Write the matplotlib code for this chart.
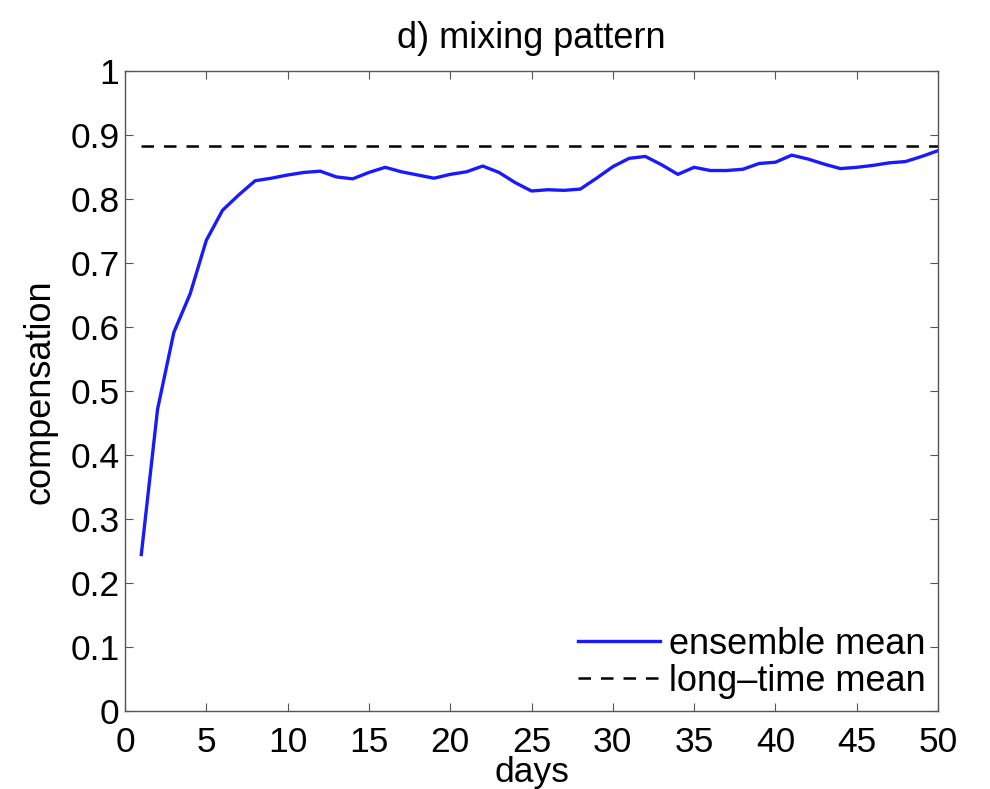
import matplotlib
matplotlib.use("Agg")
import matplotlib.pyplot as plt
import numpy as np

plt.rcParams['font.family'] = ['Liberation Sans', 'DejaVu Sans']

# ensemble mean compensation per day
days = np.arange(1, 51)
ens_mean = [0.245, 0.472, 0.592, 0.652, 0.736, 0.783, 0.807, 0.829, 0.833, 0.838,
            0.842, 0.844, 0.835, 0.832, 0.842, 0.850, 0.843, 0.838, 0.833, 0.839,
            0.843, 0.852, 0.842, 0.826, 0.813, 0.815, 0.814, 0.816, 0.833, 0.851,
            0.864, 0.867, 0.854, 0.839, 0.850, 0.845, 0.845, 0.847, 0.856, 0.858,
            0.869, 0.863, 0.855, 0.848, 0.850, 0.853, 0.857, 0.859, 0.867, 0.876]
long_mean = 0.883

xticks = np.arange(0, 51, 5)
yticks = np.round(np.arange(0, 1.01, 0.1), 1)
yticklabels = ['0'] + ['%.1f' % v for v in yticks[1:-1]] + ['1']

fig = plt.figure(figsize=(9.9, 7.89), dpi=100)
ax = fig.add_axes([0.1263, 0.0985, 0.8212, 0.8111])

ax.plot(days, ens_mean, color='#1a1aff', lw=2.4, label='ensemble mean')
ax.plot([days[0], days[-1]], [long_mean, long_mean], color='black', lw=1.8,
        dashes=(5.0, 4.0), label='long\u2013time mean')

ax.set_xlim(0, 50)
ax.set_ylim(0, 1)
ax.set_xticks(xticks)
ax.set_yticks(yticks)
ax.set_yticklabels(yticklabels)
ax.tick_params(direction='in', length=6, width=0.8, color='#555555',
               labelsize=25.5, top=True, right=True)
ax.tick_params(axis='x', pad=10.5)
ax.tick_params(axis='y', pad=4)
for sp in ax.spines.values():
    sp.set_color('#555555')
    sp.set_linewidth(1.0)

ax.set_xlabel('days', fontsize=25.5, labelpad=-2)
ax.set_ylabel('compensation', fontsize=26, labelpad=9)
ax.set_title('d) mixing pattern', fontsize=26, pad=17)

leg = ax.legend(loc='lower right', frameon=False, fontsize=26, handlelength=2.25,
                handletextpad=0.25, labelspacing=0.05, borderaxespad=0.05,
                borderpad=0.3)

plt.savefig('out.png', dpi=100)
